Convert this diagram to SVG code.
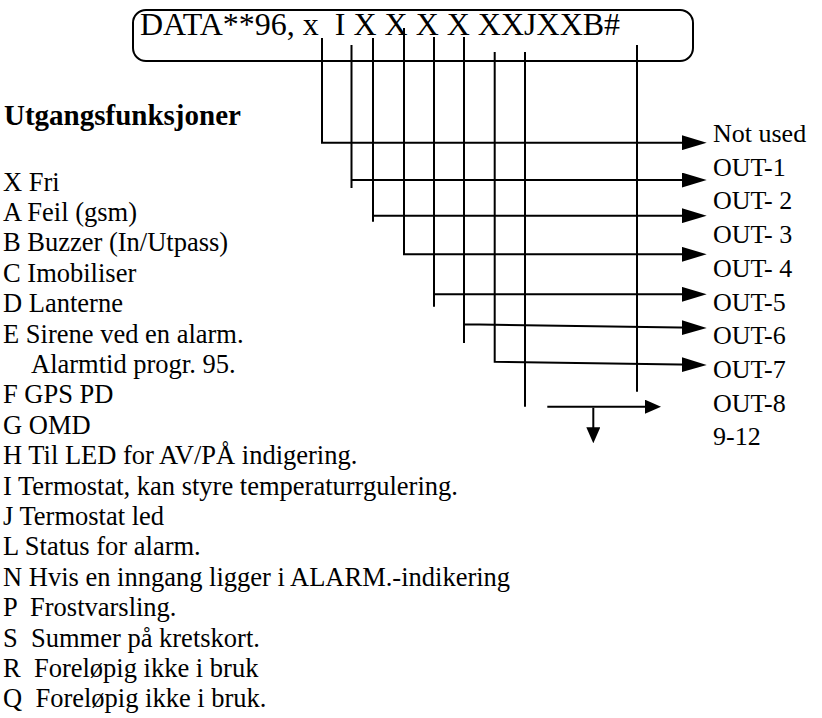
<svg xmlns="http://www.w3.org/2000/svg" width="822" height="718" viewBox="0 0 822 718">
<style>
  .wire { fill: none; stroke: #000; stroke-width: 2; }
  .arr { marker-end: url(#arrow); }
  .arrs { marker-end: url(#arrowSmall); }
</style>
<defs>
  <marker id="arrow" markerUnits="userSpaceOnUse" markerWidth="25" markerHeight="15" refX="15" refY="7.5" orient="auto" viewBox="0 0 25 15">
    <path d="M0,0 L25,7.5 L0,15 z" fill="#000"/>
  </marker>
  <marker id="arrowSmall" markerUnits="userSpaceOnUse" markerWidth="16" markerHeight="14" refX="8" refY="7" orient="auto" viewBox="0 0 16 14">
    <path d="M0,0 L16,7 L0,14 z" fill="#000"/>
  </marker>
</defs>
<rect width="822" height="718" fill="#fff"/>

<g id="command">
  <rect x="133" y="10" width="560" height="51" rx="13" ry="13" fill="none" stroke="#000" stroke-width="2"/>
  <text font-family="Liberation Serif" font-size="32" x="140" y="35" xml:space="preserve">DATA**96, x  I X X X X XXJXXB#</text>
</g>

<g id="connectors">
  <path class="wire arr" d="M322,38 V142.7 H696.7"/>
  <path class="wire arr" d="M351.5,45 V188 M351.5,180 H696.7"/>
  <path class="wire arr" d="M373,38 V221.7 M373,215.7 H696.7"/>
  <path class="wire arr" d="M404,28 V254.3 H696.7"/>
  <path class="wire arr" d="M434,37 V306.7 M434,294.3 H696.7"/>
  <path class="wire arr" d="M464,37 V343 M464,324.3 L696.7,327.8"/>
  <path class="wire arr" d="M494.7,52 V361.7 L696.7,364.8"/>
  <path class="wire" d="M525,52 V406.7"/>
  <path class="wire" d="M637,45 V391.7"/>
  <path class="wire arrs" d="M547.3,406.7 H653"/>
  <path class="wire arrs" d="M593.3,407.7 V435.3"/>
</g>

<g id="outputs">
  <text font-family="Liberation Serif" font-size="26" x="713" y="142">Not used</text>
  <text font-family="Liberation Serif" font-size="26" x="713" y="175.7">OUT-1</text>
  <text font-family="Liberation Serif" font-size="26" x="713" y="209.4">OUT- 2</text>
  <text font-family="Liberation Serif" font-size="26" x="713" y="243.1">OUT- 3</text>
  <text font-family="Liberation Serif" font-size="26" x="713" y="276.8">OUT- 4</text>
  <text font-family="Liberation Serif" font-size="26" x="713" y="310.5">OUT-5</text>
  <text font-family="Liberation Serif" font-size="26" x="713" y="344.2">OUT-6</text>
  <text font-family="Liberation Serif" font-size="26" x="713" y="377.9">OUT-7</text>
  <text font-family="Liberation Serif" font-size="26" x="713" y="411.6">OUT-8</text>
  <text font-family="Liberation Serif" font-size="26" x="713" y="445.3">9-12</text>
</g>

<g id="legend">
  <text font-family="Liberation Serif" font-size="29" font-weight="bold" x="4" y="125">Utgangsfunksjoner</text>
  <text font-family="Liberation Serif" font-size="26.5" x="3" y="190.5">X Fri</text>
  <text font-family="Liberation Serif" font-size="26.5" x="3" y="220.9">A Feil (gsm)</text>
  <text font-family="Liberation Serif" font-size="26.5" x="3" y="251.3">B Buzzer (In/Utpass)</text>
  <text font-family="Liberation Serif" font-size="26.5" x="3" y="281.7">C Imobiliser</text>
  <text font-family="Liberation Serif" font-size="26.5" x="3" y="312.1">D Lanterne</text>
  <text font-family="Liberation Serif" font-size="26.5" x="3" y="342.5">E Sirene ved en alarm.</text>
  <text font-family="Liberation Serif" font-size="26.5" x="31" y="372.9">Alarmtid progr. 95.</text>
  <text font-family="Liberation Serif" font-size="26.5" x="3" y="403.3">F GPS PD</text>
  <text font-family="Liberation Serif" font-size="26.5" x="3" y="433.7">G OMD</text>
  <text font-family="Liberation Serif" font-size="26.5" x="3" y="464.1">H Til LED for AV/PÅ indigering.</text>
  <text font-family="Liberation Serif" font-size="26.5" x="3" y="494.5">I Termostat, kan styre temperaturrgulering.</text>
  <text font-family="Liberation Serif" font-size="26.5" x="3" y="524.9">J Termostat led</text>
  <text font-family="Liberation Serif" font-size="26.5" x="3" y="555.3">L Status for alarm.</text>
  <text font-family="Liberation Serif" font-size="26.5" x="3" y="585.7">N Hvis en inngang ligger i ALARM.-indikering</text>
  <text font-family="Liberation Serif" font-size="26.5" x="3" y="616.1" xml:space="preserve">P  Frostvarsling.</text>
  <text font-family="Liberation Serif" font-size="26.5" x="3" y="646.5" xml:space="preserve">S  Summer på kretskort.</text>
  <text font-family="Liberation Serif" font-size="26.5" x="3" y="676.9" xml:space="preserve">R  Foreløpig ikke i bruk</text>
  <text font-family="Liberation Serif" font-size="26.5" x="3" y="707.3" xml:space="preserve">Q  Foreløpig ikke i bruk.</text>
</g>
</svg>
